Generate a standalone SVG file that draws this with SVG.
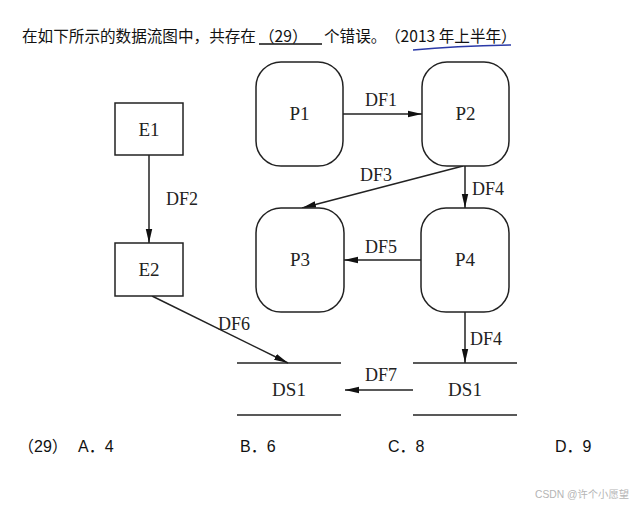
<svg xmlns="http://www.w3.org/2000/svg" width="636" height="505" viewBox="0 0 636 505">
<defs>
<marker id="arr" markerWidth="14" markerHeight="8" refX="14" refY="4" orient="auto" markerUnits="userSpaceOnUse">
<path d="M0,0.8 L14,4 L0,7.2 Z" fill="#111"/>
</marker>
<style>
.box{fill:#fff;stroke:#222;stroke-width:1.5}
.ln{stroke:#222;stroke-width:1.5;fill:none}
.lbl{font-family:"Liberation Serif","Times New Roman",serif;font-size:18px;fill:#222}
.nd{font-family:"Liberation Serif","Times New Roman",serif;font-size:19px;fill:#222;text-anchor:middle}
.hd{font-family:"Noto Sans CJK SC","Liberation Sans",sans-serif;font-size:15.6px;fill:#111;text-spacing-trim:space-all}
.opt{font-family:"Liberation Sans","Noto Sans CJK SC",sans-serif;font-size:16px;fill:#111;text-spacing-trim:space-all}
</style>
</defs>
<rect width="636" height="505" fill="#fff"/>
<text class="hd" x="22" y="42">在如下所示的数据流图中，共存在</text>
<line x1="259" y1="44" x2="322" y2="44" stroke="#111" stroke-width="1.3"/>
<text class="hd" x="259" y="42">（29）</text>
<text class="hd" x="324" y="42">个错误。</text>
<text class="hd" x="385" y="42">（2013 年上半年）</text>
<path d="M413,50 Q455,46 511,45" stroke="#2b3aa8" stroke-width="1.4" fill="none"/>

<g id="connectors">
<line class="ln" x1="343" y1="114" x2="422" y2="114" marker-end="url(#arr)"/>
<line class="ln" x1="149" y1="155" x2="149" y2="243" marker-end="url(#arr)"/>
<line class="ln" x1="463" y1="166" x2="302" y2="208" marker-end="url(#arr)"/>
<line class="ln" x1="465" y1="165" x2="465" y2="208" marker-end="url(#arr)"/>
<line class="ln" x1="421" y1="260" x2="344" y2="260" marker-end="url(#arr)"/>
<line class="ln" x1="465" y1="312" x2="465" y2="363" marker-end="url(#arr)"/>
<line class="ln" x1="152" y1="296" x2="288" y2="363" marker-end="url(#arr)"/>
<line class="ln" x1="413" y1="390" x2="345" y2="390" marker-end="url(#arr)"/>
<text class="lbl" x="365" y="106">DF1</text>
<text class="lbl" x="166" y="205">DF2</text>
<text class="lbl" x="360" y="181">DF3</text>
<text class="lbl" x="472" y="195">DF4</text>
<text class="lbl" x="365" y="253">DF5</text>
<text class="lbl" x="470" y="345">DF4</text>
<text class="lbl" x="218" y="330">DF6</text>
<text class="lbl" x="365" y="381">DF7</text>
</g>

<g id="P1"><rect class="box" x="256" y="62" width="87" height="104" rx="25"/><text class="nd" x="299.5" y="120">P1</text></g>
<g id="P2"><rect class="box" x="422" y="62" width="87" height="104" rx="25"/><text class="nd" x="465.5" y="120">P2</text></g>
<g id="P3"><rect class="box" x="256" y="208" width="88" height="104" rx="25"/><text class="nd" x="300" y="266">P3</text></g>
<g id="P4"><rect class="box" x="421" y="208" width="88" height="104" rx="25"/><text class="nd" x="465" y="266">P4</text></g>
<g id="E1"><rect class="box" x="115" y="103" width="68" height="52"/><text class="nd" x="149" y="136">E1</text></g>
<g id="E2"><rect class="box" x="115" y="243" width="68" height="53"/><text class="nd" x="149" y="276">E2</text></g>
<g id="DS1a"><line class="ln" x1="237" y1="363" x2="341" y2="363"/><line class="ln" x1="237" y1="415" x2="341" y2="415"/><text class="nd" x="289" y="396">DS1</text></g>
<g id="DS1b"><line class="ln" x1="413" y1="363" x2="517" y2="363"/><line class="ln" x1="413" y1="415" x2="517" y2="415"/><text class="nd" x="465" y="396">DS1</text></g>

<text class="opt" x="18" y="452">（29）</text>
<text class="opt" x="78" y="452">A．4</text>
<text class="opt" x="240" y="452">B．6</text>
<text class="opt" x="388" y="452">C．8</text>
<text class="opt" x="555" y="452">D．9</text>
<text x="535" y="498" font-family="'Liberation Sans','Noto Sans CJK SC',sans-serif" font-size="10.3" fill="#b5b5b5">CSDN @许个小愿望</text>
</svg>
